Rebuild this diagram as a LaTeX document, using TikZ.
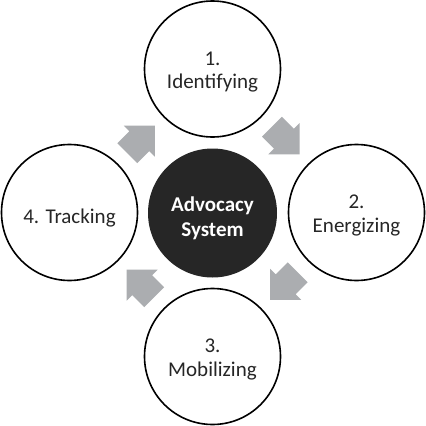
\documentclass[tikz,border=0pt]{standalone}
\usepackage{fontspec}
\setmainfont{Carlito}
\begin{document}
\begin{tikzpicture}[x=1pt,y=-1pt,
  outer/.style={circle,draw=black,line width=1.6pt,fill=white,minimum size=136pt,inner sep=0pt},
  inner/.style={circle,fill=centerfill,minimum size=129pt,inner sep=0pt},
  lbl/.style={align=center,text=textdark,font=\fontsize{21}{23.5}\selectfont,text depth=0pt,inner sep=0pt},
  clbl/.style={align=center,text=white,font=\fontsize{21}{24.5}\selectfont\bfseries,text depth=0pt,inner sep=0pt},
  blockarrow/.pic={\fill[arrowgray] (-19.5,-14) -- (-2.5,-14) -- (-2.5,-22) -- (19.5,0) -- (-2.5,22) -- (-2.5,14) -- (-19.5,14) -- cycle;}
]
\definecolor{arrowgray}{HTML}{ABADB0}
\definecolor{centerfill}{HTML}{262626}
\definecolor{textdark}{HTML}{262626}
\useasboundingbox (0,0) rectangle (426,426);
\fill[white] (0,0) rectangle (426,426);
\node[outer] (n1) at (212.5,69) {};
\node[outer] (n2) at (356.5,212.5) {};
\node[outer] (n3) at (212.5,356.5) {};
\node[outer] (n4) at (69.5,212.5) {};
\node[inner] (c) at (212.5,213) {};
\pic[rotate=-45] at (285.75,140.5) {blockarrow};
\pic[rotate=-135] at (283.9,286.1) {blockarrow};
\pic[rotate=135] at (140.4,283.4) {blockarrow};
\pic[rotate=45] at (141.1,139.4) {blockarrow};
\node[lbl] (t1) at ([yshift=-1pt]n1.center) {1.\\Identifying};
\node[lbl] (t2) at ([yshift=-1pt]n2.center) {2.\\Energizing};
\node[lbl] (t3) at ([yshift=-1pt]n3.center) {3.\\Mobilizing};
\node[lbl] (t4) at ([yshift=-3.4pt]n4.center) {4. Tracking};
\node[clbl] (tc) at ([yshift=-3.6pt]c.center) {Advocacy\\System};
\end{tikzpicture}
\end{document}
